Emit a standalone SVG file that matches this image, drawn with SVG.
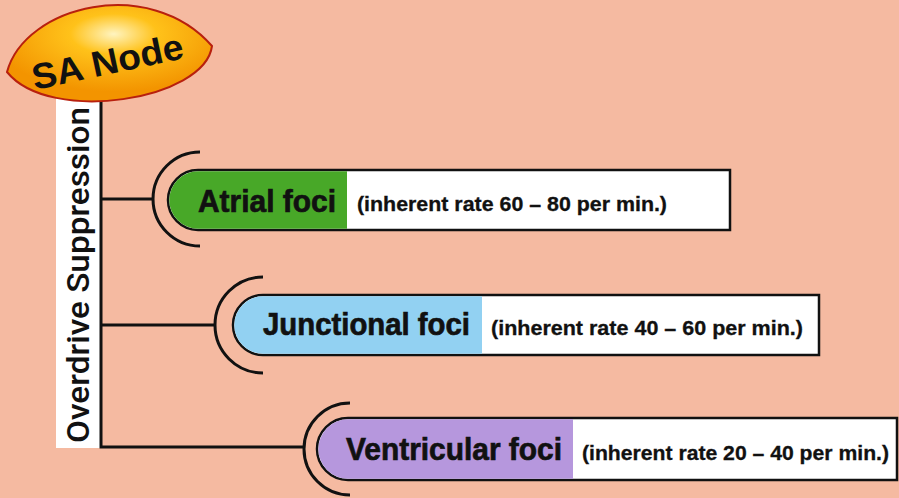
<svg xmlns="http://www.w3.org/2000/svg" width="899" height="498" viewBox="0 0 899 498">
<defs>
<radialGradient id="saGrad" cx="0.52" cy="0.3" r="0.6">
<stop offset="0" stop-color="#FFF4C0"/>
<stop offset="0.35" stop-color="#FFC21A"/>
<stop offset="1" stop-color="#F39400"/>
</radialGradient>
<style>
.conn{fill:none;stroke:#111;stroke-width:3}
.box{fill:#fff;stroke:#111;stroke-width:2.5}
.lbl{font-family:"Liberation Sans",Arial,sans-serif;font-weight:bold;font-size:32px;fill:#111;stroke:#111;stroke-width:0.7}
.rate{font-family:"Liberation Sans",Arial,sans-serif;font-weight:bold;font-size:20px;fill:#111;stroke:#111;stroke-width:0.3}
</style>
</defs>
<rect width="899" height="498" fill="#F5BAA1"/>
<g id="overdrive">
<rect x="56" y="98" width="45" height="350" fill="#fff"/>
<text transform="translate(89,275) rotate(-90)" text-anchor="middle" font-family="Roboto,'Liberation Sans',sans-serif" font-weight="500" font-size="32" textLength="336" lengthAdjust="spacingAndGlyphs" fill="#111">Overdrive Suppression</text>
</g>
<g id="connectors">
<path class="conn" d="M101,98 V447 H304"/>
<path class="conn" d="M101,199 H154"/>
<path class="conn" d="M101,325 H215"/>
<path class="conn" d="M200,152 A47,47 0 0 0 200,246"/>
<path class="conn" d="M263,277 A48,48 0 0 0 263,373"/>
<path class="conn" d="M350,403 A46,46 0 0 0 350,495"/>
</g>
<g id="sa-node">
<path d="M7,72 C25,5 150,-25 212,46 C205,100 50,125 7,72 Z" fill="url(#saGrad)" stroke="#B8200E" stroke-width="2"/>
<text transform="translate(110,74) rotate(-12)" text-anchor="middle" font-family="'Liberation Sans',Arial,sans-serif" font-weight="bold" font-size="36" textLength="154" lengthAdjust="spacingAndGlyphs" fill="#111">SA Node</text>
</g>
<g id="atrial">
<path class="box" d="M198,170 H730 V230 H198 A30,30 0 0 1 198,170 Z"/>
<path d="M198,171.3 H347 V228.7 H198 A28.7,28.7 0 0 1 198,171.3 Z" fill="#48A828"/>
<text class="lbl" x="198" y="212" textLength="138" lengthAdjust="spacingAndGlyphs">Atrial foci</text>
<text class="rate" x="357" y="211" textLength="310" lengthAdjust="spacingAndGlyphs">(inherent rate 60 – 80 per min.)</text>
</g>
<g id="junctional">
<path class="box" d="M263,295 H819 V355 H263 A30,30 0 0 1 263,295 Z"/>
<path d="M263,296.3 H482 V353.7 H263 A28.7,28.7 0 0 1 263,296.3 Z" fill="#92D1F2"/>
<text class="lbl" x="263" y="335" textLength="207" lengthAdjust="spacingAndGlyphs">Junctional foci</text>
<text class="rate" x="491" y="335" textLength="312" lengthAdjust="spacingAndGlyphs">(inherent rate 40 – 60 per min.)</text>
</g>
<g id="ventricular">
<path class="box" d="M348,418 H897 V480 H348 A31,31 0 0 1 348,418 Z"/>
<path d="M348,419.3 H573 V478.7 H348 A29.7,29.7 0 0 1 348,419.3 Z" fill="#B697DD"/>
<text class="lbl" x="346" y="460" textLength="216" lengthAdjust="spacingAndGlyphs">Ventricular foci</text>
<text class="rate" x="582" y="460" textLength="307" lengthAdjust="spacingAndGlyphs">(inherent rate 20 – 40 per min.)</text>
</g>
</svg>
